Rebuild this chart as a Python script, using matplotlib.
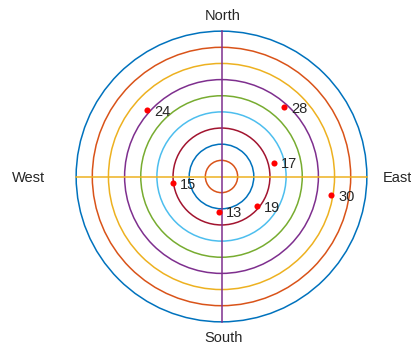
import numpy as np
import matplotlib.pyplot as plt
from matplotlib.patches import Circle

plt.rcParams['font.family'] = ['Liberation Sans', 'DejaVu Sans']

# MATLAB default colour order
colors = [(0, 0.447, 0.741), (0.85, 0.325, 0.098), (0.929, 0.694, 0.125),
          (0.494, 0.184, 0.556), (0.466, 0.674, 0.188), (0.301, 0.745, 0.933),
          (0.635, 0.078, 0.184)]

radii = [9, 8, 7, 6, 5, 4, 3, 2, 1]

# points (x, y) and their labels
px = [-4.63, 3.85, 3.25, -3.0, -0.15, 2.18, 6.78]
py = [4.12, 4.28, 0.85, -0.40, -2.18, -1.85, -1.16]
plabels = ['24', '28', '17', '15', '13', '19', '30']

dirs = ['North', 'South', 'West', 'East']
dir_x = [0.1, 0.1, -11.95, 10.0]
dir_y = [9.96, -10.0, -0.1, -0.1]
dir_ha = ['center', 'center', 'center', 'left']

fig = plt.figure(figsize=(4.11, 3.46), dpi=100)
ax = fig.add_axes([0, 0, 1, 1])

for i, r in enumerate(radii):
    ax.add_patch(Circle((0, 0), r, fill=False, edgecolor=colors[i % 7], linewidth=1.1))

ax.plot([-9, 9], [0, 0], color=colors[2], linewidth=1.1)
ax.plot([0, 0], [-9, 9], color=colors[3], linewidth=1.1)

ax.plot(px, py, 'o', color='red', markersize=4.4, markeredgewidth=0)
for x, y, s in zip(px, py, plabels):
    ax.text(x + 0.45, y - 0.1, s, ha='left', va='center', fontsize=10.5, color='0.15')

for s, x, y, h in zip(dirs, dir_x, dir_y, dir_ha):
    ax.text(x, y, s, ha=h, va='center', fontsize=10.5, color='0.15')

ax.set_xlim(-221.5 / 16.15, (411 - 221.5) / 16.15)
ax.set_ylim(-(346 - 176.5) / 16.15, 176.5 / 16.15)
ax.axis('off')

fig.savefig('out.png', dpi=100)
